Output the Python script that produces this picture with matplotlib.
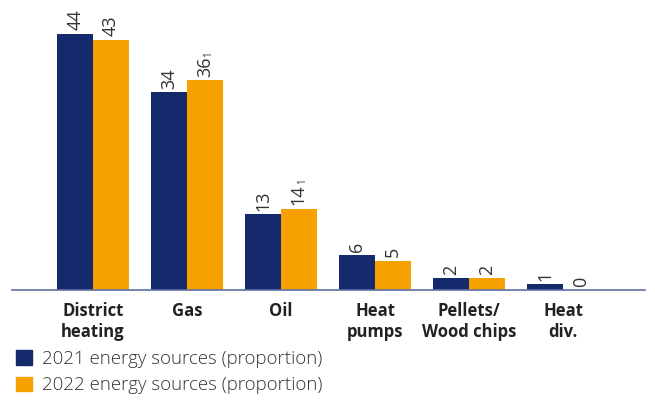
import matplotlib.pyplot as plt
import numpy as np
from matplotlib.patches import Patch

plt.rcParams['font.family'] = ['Open Sans', 'DejaVu Sans']

categories = ["District\nheating", "Gas", "Oil", "Heat\npumps", "Pellets/\nWood chips", "Heat\ndiv."]
share_2021 = [44, 34, 13, 6, 2, 1]
share_2022 = [43, 36, 14, 5, 2, 0]
# footnote markers on the 2022 values
notes_2022 = ["", "1", "1", "", "", ""]
series_names = ["2021 energy sources (proportion)", "2022 energy sources (proportion)"]

NAVY = "#152a6c"
ORANGE = "#f6a100"
TEXT = "#333333"

fig = plt.figure(figsize=(6.55, 4.03), dpi=100)
ax = fig.add_axes([12 / 655, 113 / 403, 633 / 655, 290 / 403])

x = np.arange(len(categories))
w = 0.378
bars_a = ax.bar(x - w / 2, share_2021, w, color=NAVY)
bars_b = ax.bar(x + w / 2, share_2022, w, color=ORANGE)

ax.set_xlim(-0.862, 5.872)
ax.set_ylim(0, 290 / 5.82)


def label_bars(bars, values, notes):
    for b, v, n in zip(bars, values, notes):
        t = ax.annotate(str(v), (b.get_x() + b.get_width() / 2, v),
                        xytext=(0, 2.5), textcoords="offset points",
                        rotation=90, ha="center", va="bottom",
                        fontsize=13, color=TEXT)
        if n:
            ax.annotate(n, xy=(1.0, 1.0), xycoords=t, rotation=90,
                        ha="right", va="bottom", fontsize=7, color=TEXT)


label_bars(bars_a, share_2021, [""] * len(share_2021))
label_bars(bars_b, share_2022, notes_2022)

for s in ["top", "right", "left"]:
    ax.spines[s].set_visible(False)
ax.spines["bottom"].set_color("#5f70a3")
ax.spines["bottom"].set_linewidth(1.2)
ax.set_yticks([])
ax.set_xticks(x)
ax.set_xticklabels(categories, fontsize=12, fontweight="bold", color="#222222",
                   linespacing=1.2)
ax.tick_params(axis="x", length=0, pad=8.5)

handles = [Patch(color=NAVY), Patch(color=ORANGE)]
fig.legend(handles, series_names, loc="upper left", bbox_to_anchor=(9 / 655, 0.15),
           frameon=False, handlelength=0.85, handleheight=0.85,
           handletextpad=0.55, labelspacing=0.45, borderaxespad=0,
           prop={"weight": "light", "size": 13.4}, labelcolor=TEXT)

fig.savefig("out.png", dpi=100)
